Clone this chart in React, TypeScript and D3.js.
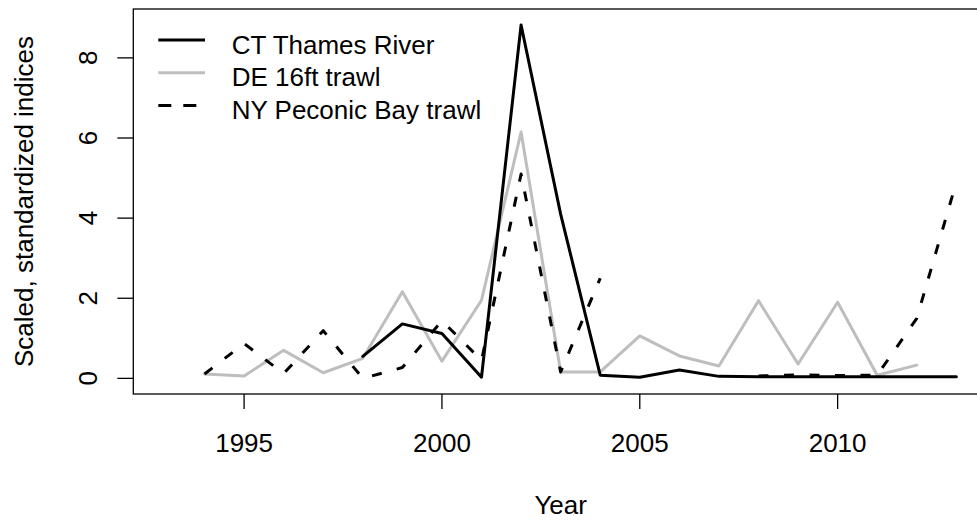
import React from "react";
import * as d3 from "d3";

const years = [1994, 1995, 1996, 1997, 1998, 1999, 2000, 2001, 2002, 2003, 2004, 2005, 2006, 2007, 2008, 2009, 2010, 2011, 2012, 2013];
const ctThames = [null, null, null, null, 0.55, 1.36, 1.12, 0.03, 8.82, 4.1, 0.08, 0.03, 0.21, 0.05, 0.04, 0.04, 0.04, 0.04, 0.04, 0.04];
const de16ft = [0.11, 0.06, 0.7, 0.14, 0.5, 2.16, 0.43, 1.95, 6.15, 0.16, 0.16, 1.06, 0.56, 0.31, 1.94, 0.36, 1.9, 0.08, 0.33, null];
const nyPeconic = [0.11, 0.87, 0.12, 1.19, 0.0, 0.27, 1.44, 0.45, 5.1, 0.16, 2.5, null, null, null, 0.06, 0.09, 0.07, 0.08, 1.5, 4.9];

const xTicks = [1995, 2000, 2005, 2010];
const yTicks = [0, 2, 4, 6, 8];
const seriesNames = ["CT Thames River", "DE 16ft trawl", "NY Peconic Bay trawl"];

const W = 977;
const H = 521;
const FONT = "'Liberation Sans', Arial, sans-serif";

export default function App() {
  const left = 133.3, right = 988, top = 9, bottom = 394;
  const x = d3.scaleLinear().domain([1992.2, 2013.8]).range([left, right]);
  const y = d3.scaleLinear().domain([-0.39, 9.22]).range([bottom, top]);

  const mk = (vals: (number | null)[]) =>
    d3
      .line<number>()
      .defined((_, i) => vals[i] != null)
      .x((d) => x(d))
      .y((_, i) => y(vals[i] as number))(years) || "";

  const series = [
    { vals: de16ft, color: "#BEBEBE", dash: undefined as string | undefined, legendIdx: 1 },
    { vals: ctThames, color: "#000000", dash: undefined, legendIdx: 0 },
    { vals: nyPeconic, color: "#000000", dash: "10 15.5", legendIdx: 2 },
  ];
  const legendStyles = [
    { color: "#000000", dash: undefined as string | undefined },
    { color: "#BEBEBE", dash: undefined },
    { color: "#000000", dash: "10 15.5" },
  ];

  const legendLineY = [40, 72.7, 105.4];

  return (
    <svg
      width={W}
      height={H}
      style={{ position: "absolute", left: 0, top: 0, background: "#fff" }}
      xmlns="http://www.w3.org/2000/svg"
    >
      <rect x={0} y={0} width={W} height={H} fill="#fff" />
      <defs>
        <clipPath id="plotclip">
          <rect x={left} y={top} width={right - left} height={bottom - top} />
        </clipPath>
      </defs>
      <g clipPath="url(#plotclip)">
        {series.map((s, i) => (
          <path
            key={i}
            d={mk(s.vals)}
            fill="none"
            stroke={s.color}
            strokeWidth={3}
            strokeDasharray={s.dash}
            strokeLinejoin="round"
            strokeLinecap={s.dash ? "butt" : "round"}
          />
        ))}
      </g>
      {/* box */}
      <rect x={left} y={top} width={right - left} height={bottom - top} fill="none" stroke="#000" strokeWidth={1.3} />
      {/* x axis */}
      {xTicks.map((t) => (
        <g key={t}>
          <line x1={x(t)} x2={x(t)} y1={bottom} y2={bottom + 15} stroke="#000" strokeWidth={1.3} />
          <text x={x(t)} y={452} textAnchor="middle" fontFamily={FONT} fontSize={26} fill="#000">
            {t}
          </text>
        </g>
      ))}
      {/* y axis */}
      {yTicks.map((t) => (
        <g key={t}>
          <line x1={left - 16} x2={left} y1={y(t)} y2={y(t)} stroke="#000" strokeWidth={1.3} />
          <text
            transform={`translate(96.5,${y(t)}) rotate(-90)`}
            textAnchor="middle"
            fontFamily={FONT}
            fontSize={26}
            fill="#000"
          >
            {t}
          </text>
        </g>
      ))}
      <text x={(left + right) / 2} y={514} textAnchor="middle" fontFamily={FONT} fontSize={26} fill="#000">
        Year
      </text>
      <text
        transform={`translate(32.5,${(top + bottom) / 2}) rotate(-90)`}
        textAnchor="middle"
        fontFamily={FONT}
        fontSize={26}
        fill="#000"
      >
        Scaled, standardized indices
      </text>
      {/* legend */}
      {seriesNames.map((name, i) => (
        <g key={name}>
          <line
            x1={158.3}
            x2={205}
            y1={legendLineY[i]}
            y2={legendLineY[i]}
            stroke={legendStyles[i].color}
            strokeWidth={3}
            strokeDasharray={legendStyles[i].dash ? "13 12" : undefined}
            strokeLinecap="butt"
          />
          <text x={231.7} y={legendLineY[i] + 13.5} fontFamily={FONT} fontSize={26} fill="#000">
            {name}
          </text>
        </g>
      ))}
    </svg>
  );
}
